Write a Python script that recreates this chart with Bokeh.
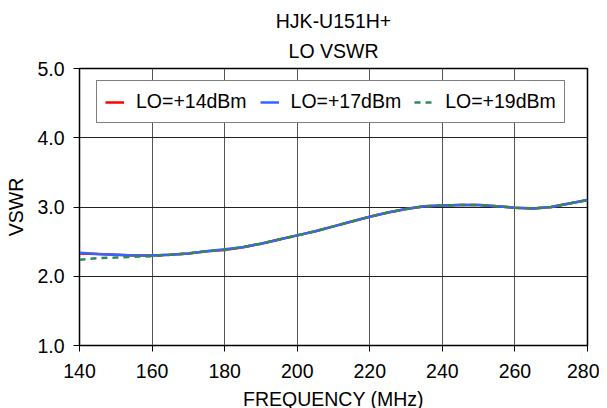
from bokeh.plotting import figure
from bokeh.models import Title, Legend, LegendItem, FixedTicker, NumeralTickFormatter, Range1d
from bokeh.embed import file_html
from bokeh.resources import INLINE

freq = [140, 145, 150, 155, 160, 165, 170, 175, 180, 185, 190, 195, 200, 205, 210,
        215, 220, 225, 230, 235, 240, 245, 250, 255, 260, 265, 270, 275, 280]
lo14 = [2.33, 2.32, 2.31, 2.30, 2.30, 2.31, 2.33, 2.36, 2.38, 2.42, 2.47, 2.53, 2.59, 2.65, 2.72,
        2.79, 2.86, 2.92, 2.97, 3.01, 3.02, 3.03, 3.03, 3.01, 2.99, 2.98, 3.00, 3.05, 3.10]
lo17 = [2.34, 2.32, 2.31, 2.30, 2.30, 2.31, 2.33, 2.36, 2.39, 2.42, 2.47, 2.53, 2.59, 2.65, 2.72,
        2.79, 2.86, 2.92, 2.97, 3.01, 3.02, 3.03, 3.03, 3.01, 2.99, 2.98, 3.00, 3.05, 3.10]
lo19 = [2.24, 2.26, 2.27, 2.28, 2.29, 2.31, 2.33, 2.36, 2.38, 2.42, 2.47, 2.53, 2.59, 2.65, 2.72,
        2.79, 2.86, 2.92, 2.97, 3.01, 3.02, 3.03, 3.03, 3.01, 2.99, 2.98, 3.00, 3.05, 3.10]
x_ticks = [140, 160, 180, 200, 220, 240, 260, 280]
y_ticks = [1.0, 2.0, 3.0, 4.0, 5.0]
title_top = "HJK-U151H+"
title_bottom = "LO VSWR"

FONT = "Liberation Sans"
FS = "19.5px"

p = figure(frame_width=508, frame_height=277, output_backend="svg", toolbar_location=None,
           x_range=Range1d(140, 280), y_range=Range1d(1.0, 5.0),
           min_border_left=79, min_border_right=12, min_border_top=68, min_border_bottom=50,
           background_fill_color="white", border_fill_color="white")
p.outline_line_color = "black"
p.outline_line_width = 1.5

p.add_layout(Title(text=title_bottom, align="center", text_font=FONT, text_font_size=FS,
                   text_font_style="normal", text_color="black", text_line_height=1.0,
                   standoff=13), "above")
p.add_layout(Title(text=title_top, align="center", text_font=FONT, text_font_size=FS,
                   text_font_style="normal", text_color="black", text_line_height=1.0,
                   standoff=0), "above")

r14 = p.line(freq, lo14, line_color="#ff0000", line_width=2.5)
r17 = p.line(freq, lo17, line_color="#3366ff", line_width=2.5)
r19 = p.line(freq, lo19, line_color="#2e8b57", line_width=2.5, line_dash="6 5")

p.xaxis.ticker = FixedTicker(ticks=x_ticks)
p.yaxis.ticker = FixedTicker(ticks=y_ticks)
p.yaxis.formatter = NumeralTickFormatter(format="0.0")
for ax in (p.xaxis, p.yaxis):
    ax.major_label_text_font = FONT
    ax.major_label_text_font_size = FS
    ax.major_label_text_color = "black"
    ax.axis_label_text_font = FONT
    ax.axis_label_text_font_size = FS
    ax.axis_label_text_font_style = "normal"
    ax.axis_label_text_color = "black"
    ax.axis_line_color = "black"
    ax.major_tick_line_color = "black"
    ax.major_tick_out = 6
    ax.major_tick_in = 0
    ax.minor_tick_line_color = None
p.xaxis.axis_label = "FREQUENCY (MHz)"
p.yaxis.axis_label = "VSWR"
p.xaxis.major_label_standoff = 12
p.yaxis.major_label_standoff = 9
p.xaxis.axis_label_standoff = 7
p.yaxis.axis_label_standoff = 7

p.xgrid.grid_line_color = "#555555"
p.ygrid.grid_line_color = "#222222"
p.xgrid.grid_line_width = 1
p.ygrid.grid_line_width = 1

legend = Legend(items=[LegendItem(label="LO=+14dBm", renderers=[r14]),
                       LegendItem(label="LO=+17dBm", renderers=[r17]),
                       LegendItem(label="LO=+19dBm", renderers=[r19])],
                orientation="horizontal", location=(17, 222),
                label_text_font=FONT, label_text_font_size=FS, label_text_color="black",
                label_height=25, glyph_height=20,
                border_line_color="black", border_line_width=1,
                glyph_width=19, label_standoff=12, spacing=13, padding=8, margin=0,
                background_fill_alpha=1)
p.add_layout(legend, "center")

open("out.html", "w").write(file_html(p, INLINE))
